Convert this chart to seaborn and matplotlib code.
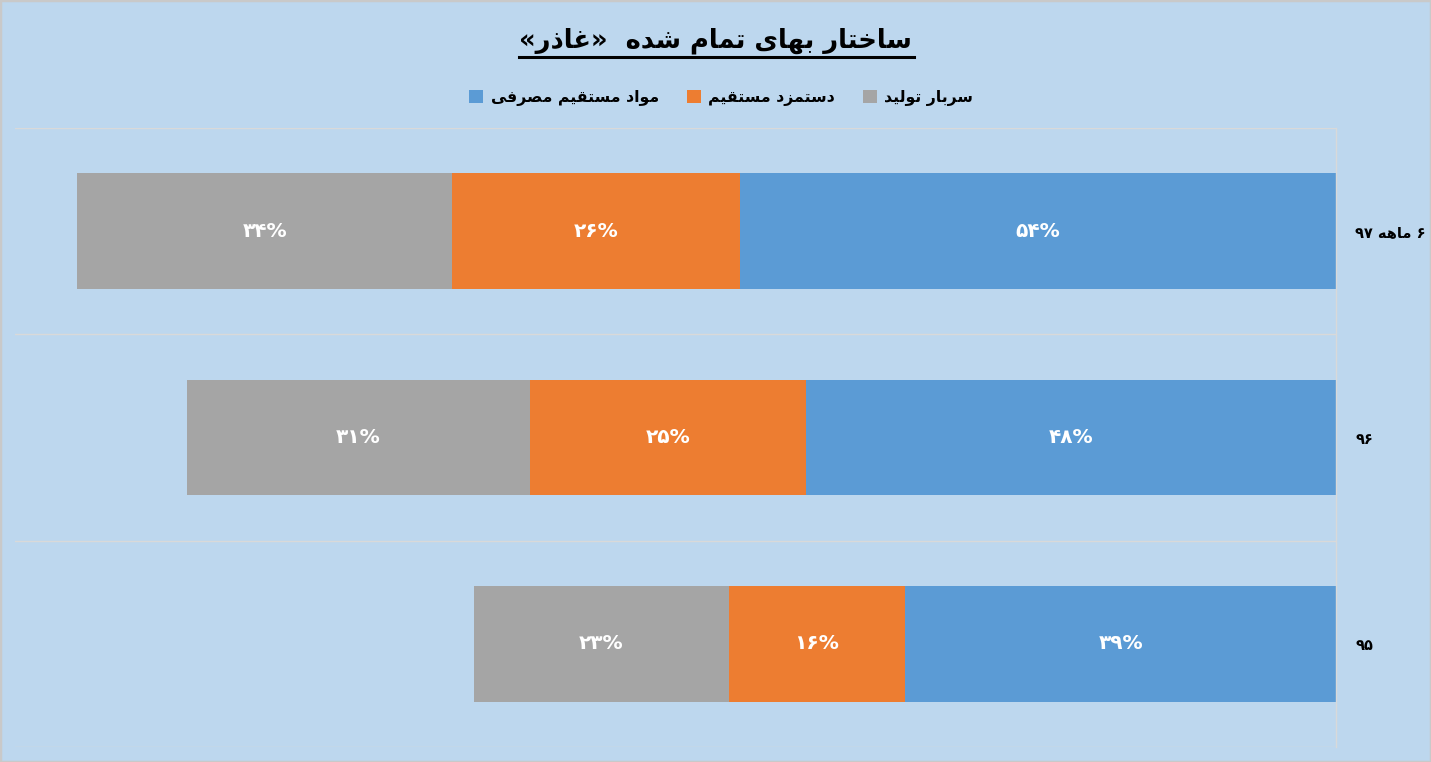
import re
import pandas as pd
import seaborn as sns
import matplotlib.pyplot as plt
from matplotlib.patches import Patch, Rectangle
from matplotlib.lines import Line2D

# chart values
periods = ['۶ ماهه ۹۷', '۹۶', '۹۵']
materials = [54, 48, 39]
labour = [26, 25, 16]
overhead = [34, 31, 23]
series_names = ['مواد مستقیم مصرفی', 'دستمزد مستقیم', 'سربار تولید']
series_colors = ['#5B9BD5', '#ED7D31', '#A5A5A5']
title_text = 'ساختار بهای تمام شده  «غاذر»'

# isolated, final, initial, medial presentation forms
FORMS = {
    'ا': ('\uFE8D', '\uFE8E', None, None),
    'ب': ('\uFE8F', '\uFE90', '\uFE91', '\uFE92'),
    'ت': ('\uFE95', '\uFE96', '\uFE97', '\uFE98'),
    'خ': ('\uFEA5', '\uFEA6', '\uFEA7', '\uFEA8'),
    'د': ('\uFEA9', '\uFEAA', None, None),
    'ذ': ('\uFEAB', '\uFEAC', None, None),
    'ر': ('\uFEAD', '\uFEAE', None, None),
    'ز': ('\uFEAF', '\uFEB0', None, None),
    'س': ('\uFEB1', '\uFEB2', '\uFEB3', '\uFEB4'),
    'ش': ('\uFEB5', '\uFEB6', '\uFEB7', '\uFEB8'),
    'ص': ('\uFEB9', '\uFEBA', '\uFEBB', '\uFEBC'),
    'غ': ('\uFECD', '\uFECE', '\uFECF', '\uFED0'),
    'ف': ('\uFED1', '\uFED2', '\uFED3', '\uFED4'),
    'ق': ('\uFED5', '\uFED6', '\uFED7', '\uFED8'),
    'ل': ('\uFEDD', '\uFEDE', '\uFEDF', '\uFEE0'),
    'م': ('\uFEE1', '\uFEE2', '\uFEE3', '\uFEE4'),
    'ه': ('\uFEE9', '\uFEEA', '\uFEEB', '\uFEEC'),
    'و': ('\uFEED', '\uFEEE', None, None),
    'ی': ('\uFBFC', '\uFBFD', '\uFBFE', '\uFBFF'),
}


def fa(text):
    '''shape persian letters and put them in visual (left to right) order'''
    out = []
    for i, ch in enumerate(text):
        if ch not in FORMS:
            out.append(ch)
            continue
        iso, fin, ini, med = FORMS[ch]
        prev = text[i - 1] if i > 0 else ''
        nxt = text[i + 1] if i < len(text) - 1 else ''
        join_prev = prev in FORMS and FORMS[prev][2] is not None
        join_next = ini is not None and nxt in FORMS
        if join_prev and join_next:
            out.append(med)
        elif join_prev:
            out.append(fin)
        elif join_next:
            out.append(ini)
        else:
            out.append(iso)
    vis = ''.join(out)[::-1]
    vis = re.sub('[۰-۹0-9]+', lambda m: m.group(0)[::-1], vis)
    return vis.translate(str.maketrans('«»', '»«'))


def fa_num(v):
    return str(v).translate(str.maketrans('0123456789', '۰۱۲۳۴۵۶۷۸۹')) + '%'


bg = '#BDD7EE'
grid_c = '#D9D9D9'
plt.rcParams['font.family'] = ['DejaVu Sans']

df = pd.DataFrame({'period': [fa(p) for p in periods],
                   'materials': materials, 'labour': labour, 'overhead': overhead})
df['to_labour'] = df['materials'] + df['labour']
df['total'] = df['to_labour'] + df['overhead']

fig = plt.figure(figsize=(14.31, 7.62), dpi=100, facecolor=bg)
ax = fig.add_axes([15 / 1431, 15 / 762, 1321 / 1431, 619 / 762])
ax.set_facecolor(bg)

# stacked bars drawn as overlapping cumulative totals
for col, color in [('total', series_colors[2]), ('to_labour', series_colors[1]),
                   ('materials', series_colors[0])]:
    sns.barplot(data=df, x=col, y='period', color=color, saturation=1, width=0.56,
                linewidth=0, orient='h', ax=ax)

# segment labels
for i, row in df.iterrows():
    starts = [0, row['materials'], row['to_labour']]
    vals = [row['materials'], row['labour'], row['overhead']]
    for s, v in zip(starts, vals):
        ax.text(s + v / 2, i, fa_num(v), ha='center', va='center', color='white',
                fontsize=14.5, fontweight='bold')

ax.set_xlim(119.6, 0)
ax.set_ylim(2.5, -0.5)
ax.set_xticks([])
ax.set_xlabel('')
ax.set_ylabel('')
ax.yaxis.tick_right()
ax.tick_params(axis='y', length=0, pad=14, labelsize=10.5)
for lab in ax.get_yticklabels():
    lab.set_ha('left')
    lab.set_fontweight('bold')
for b in [-0.5, 0.5, 1.5, 2.5]:
    ax.axhline(b, color=grid_c, lw=1, zorder=0)
for side in ['top', 'bottom', 'left']:
    ax.spines[side].set_visible(False)
ax.spines['right'].set_color(grid_c)
ax.spines['right'].set_linewidth(1)

handles = [Patch(facecolor=c, edgecolor='none') for c in series_colors]
fig.legend(handles, [fa(n) for n in series_names], loc='center', bbox_to_anchor=(0.504, 1 - 98 / 762),
           ncol=3, frameon=False, prop={'size': 11.3, 'weight': 'bold'},
           handlelength=0.9, handleheight=0.9, handletextpad=0.45, columnspacing=1.8)

title = fig.text(0.5, 1 - 41 / 762, fa(title_text), ha='center', va='center',
                 fontsize=18.5, fontweight='bold')

fig.canvas.draw()
bb = title.get_window_extent(fig.canvas.get_renderer())
fig.add_artist(Line2D([bb.x0, bb.x1 + 2], [bb.y0 - 3, bb.y0 - 3], transform=None,
                      color='black', lw=2.2))
fig.add_artist(Rectangle((0, 0), 1, 1, transform=fig.transFigure, fill=False,
                         edgecolor='#C9C9C9', lw=2.5))

fig.savefig('out.png', dpi=100, facecolor=bg)
